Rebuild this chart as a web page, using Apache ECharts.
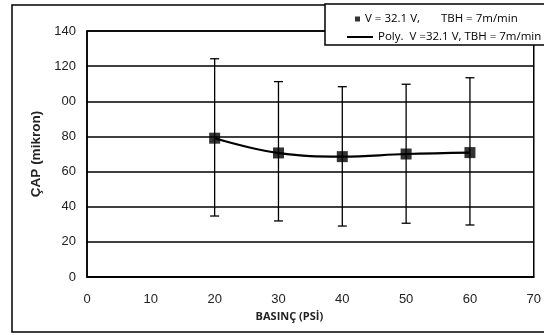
<!DOCTYPE html>
<html>
<head>
<meta charset="utf-8">
<script src="https://cdn.jsdelivr.net/npm/echarts@6/dist/echarts.min.js"></script>
<style>html,body{margin:0;padding:0;background:#fff}#c{width:544px;height:335px}</style>
</head>
<body>
<div id="c"></div>
<script>
// Data
var pressure = [20, 30, 40, 50, 60];
var diameter = [79, 70.6, 68.5, 70, 70.8];
var errLow = [34.7, 31.9, 29.0, 30.6, 29.6];
var errHigh = [124.2, 111.2, 108.3, 109.7, 113.4];
var yTickLabels = {0: '0', 20: '20', 40: '40', 60: '60', 80: '80', 100: '00', 120: '120', 140: '140'};
var seriesName1 = 'V = 32.1 V,       TBH = 7m/min';
var seriesName2 = 'Poly.  V =32.1 V, TBH = 7m/min';

var pts = pressure.map(function (x, i) { return [x, diameter[i]]; });
var errs = pressure.map(function (x, i) { return [x, errLow[i], errHigh[i]]; });

var chart = echarts.init(document.getElementById('c'), null, {renderer: 'canvas'});
chart.setOption({
  animation: false,
  backgroundColor: '#fff',
  grid: {left: 87, right: 4, top: 31, bottom: 58, show: true, borderColor: '#000', borderWidth: 1.5},
  xAxis: {
    type: 'value', min: 0, max: 70, interval: 10,
    name: 'BASINÇ (PSİ)', nameLocation: 'middle', nameGap: 34,
    nameTextStyle: {fontFamily: 'Open Sans', fontWeight: 'bold', fontSize: 11, color: '#222', padding: [0, 42, 0, 0]},
    axisLine: {show: true, lineStyle: {color: '#000', width: 1.5}},
    axisTick: {show: false},
    splitLine: {show: false},
    axisLabel: {fontFamily: 'Liberation Sans', fontSize: 13, color: '#222', margin: 16}
  },
  yAxis: {
    type: 'value', min: 0, max: 140, interval: 20,
    name: 'ÇAP (mikron)', nameLocation: 'middle', nameGap: 42, nameRotate: 90,
    nameTextStyle: {fontFamily: 'Liberation Sans', fontWeight: 'bold', fontSize: 13.5, color: '#222'},
    axisLine: {show: true, lineStyle: {color: '#000', width: 1.5}},
    axisTick: {show: false},
    splitLine: {show: true, lineStyle: {color: '#000', width: 1.5}},
    axisLabel: {fontFamily: 'Liberation Sans', fontSize: 13, color: '#222', margin: 11,
      formatter: function (v) { return yTickLabels[v]; }}
  },
  legend: [
    {data: [{name: seriesName1, icon: 'rect'}], left: 350, top: 8, itemWidth: 5, itemHeight: 5, itemGap: 0,
     textStyle: {fontFamily: 'Open Sans', fontSize: 11.5, color: '#000'}, z: 20},
    {data: [{name: seriesName2}], left: 341, top: 26, itemWidth: 26, itemHeight: 2, itemGap: 0,
     textStyle: {fontFamily: 'Open Sans', fontSize: 11.5, color: '#000'}, z: 20}
  ],
  graphic: [
    {type: 'rect', shape: {x: 12, y: 5, width: 540, height: 327}, style: {fill: 'none', stroke: '#000', lineWidth: 1.5}, z: 5, silent: true},
    {type: 'rect', shape: {x: 325, y: 4, width: 230, height: 41}, style: {fill: '#fff', stroke: '#000', lineWidth: 1.5}, z: 10, silent: true}
  ],
  series: [
    {
      type: 'custom', name: 'err', data: errs, z: 3,
      renderItem: function (params, api) {
        var x = api.value(0);
        var lo = api.coord([x, api.value(1)]);
        var hi = api.coord([x, api.value(2)]);
        var cw = 4.5;
        var st = {stroke: '#000', lineWidth: 1.3};
        return {type: 'group', children: [
          {type: 'line', shape: {x1: lo[0], y1: lo[1], x2: hi[0], y2: hi[1]}, style: st},
          {type: 'line', shape: {x1: lo[0] - cw, y1: lo[1], x2: lo[0] + cw, y2: lo[1]}, style: st},
          {type: 'line', shape: {x1: hi[0] - cw, y1: hi[1], x2: hi[0] + cw, y2: hi[1]}, style: st}
        ]};
      }
    },
    {
      type: 'line', name: seriesName2, data: pts, smooth: 0.4, symbol: 'none', z: 4,
      lineStyle: {color: '#000', width: 2.2}, itemStyle: {color: '#000'}
    },
    {
      type: 'scatter', name: seriesName1, data: pts, symbol: 'rect', symbolSize: 11, z: 5,
      itemStyle: {color: '#000'}
    }
  ]
});
</script>
</body>
</html>
